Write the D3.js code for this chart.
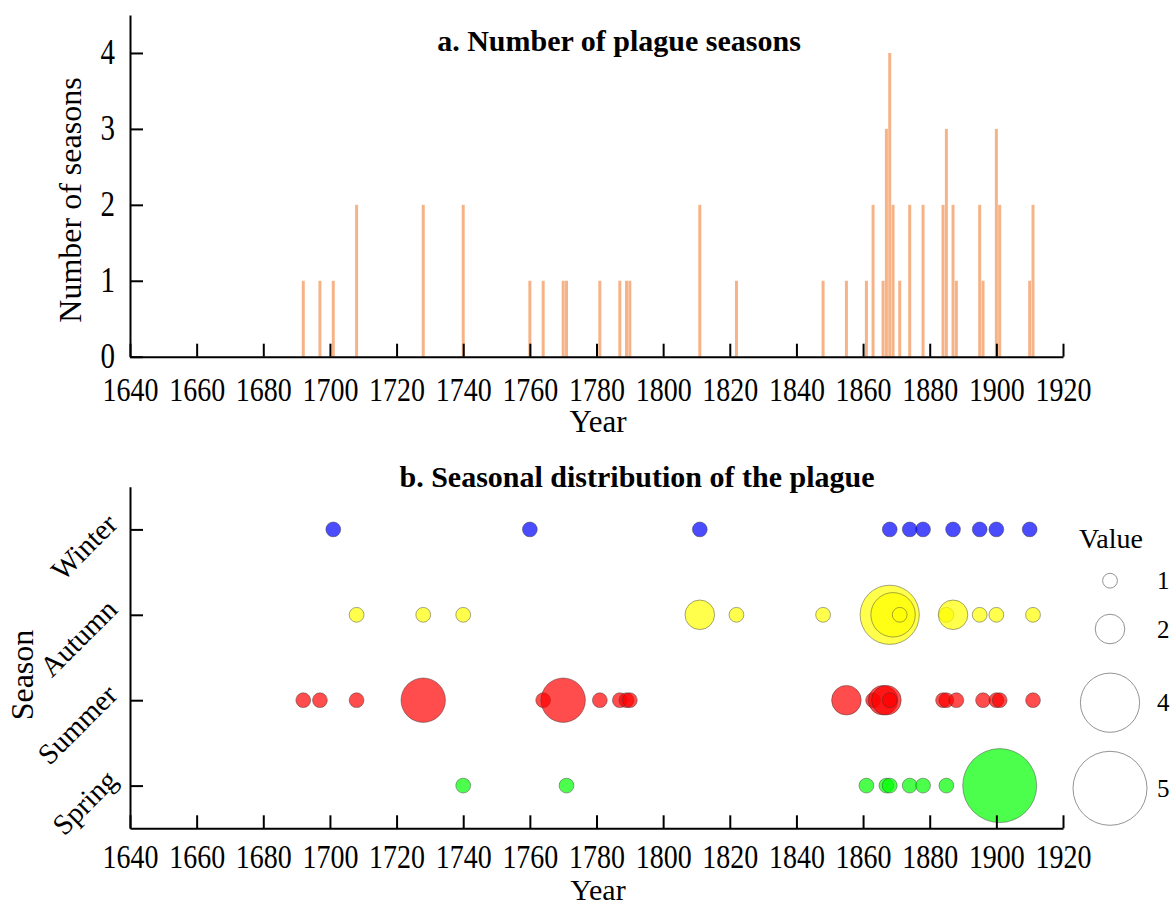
<!DOCTYPE html>
<html>
<head>
  <meta charset="utf-8">
  <title>plague seasons</title>
  <script src="https://d3js.org/d3.v7.min.js"></script>
  <style>
    body {
      margin: 0;
      background: #fff;
    }
    text {
      font-family: "Liberation Serif", "Times New Roman", serif;
      fill: #000;
    }
    .axis path, .axis line {
      stroke: #000;
      stroke-width: 2px;
    }
    .title {
      font-weight: bold;
      font-size: 30px;
    }
  </style>
</head>
<body>
<script>
  // number of plague seasons per year (panel a)
  var barYears = [1692, 1697, 1701, 1708, 1728, 1740, 1760, 1764, 1770, 1771, 1781, 1787, 1789, 1790,
    1811, 1822, 1848, 1855, 1861, 1863, 1866, 1867, 1868, 1869, 1871, 1874, 1878, 1884, 1885,
    1887, 1888, 1895, 1896, 1900, 1901, 1910, 1911];
  var barCounts = [1, 1, 1, 2, 2, 2, 1, 1, 1, 1, 1, 1, 1, 1,
    2, 1, 1, 1, 1, 2, 1, 3, 4, 2, 1, 2, 2, 2, 3,
    2, 1, 2, 1, 3, 2, 1, 2];

  // seasonal bubbles (panel b)
  var seasons = ["Spring", "Summer", "Autumn", "Winter"];
  var seasonColors = ["#00ff00", "#ff0000", "#ffff00", "#0000ff"];

  var springYears = [1740, 1771, 1861, 1867, 1868, 1874, 1878, 1885, 1901];
  var springValues = [1, 1, 1, 1, 1, 1, 1, 1, 5];
  var summerYears = [1692, 1697, 1708, 1728, 1764, 1770, 1781, 1787, 1789, 1790, 1855, 1863, 1866,
    1867, 1868, 1884, 1885, 1888, 1896, 1900, 1901, 1911];
  var summerValues = [1, 1, 1, 3, 1, 3, 1, 1, 1, 1, 2, 1, 2,
    2, 1, 1, 1, 1, 1, 1, 1, 1];
  var autumnYears = [1708, 1728, 1740, 1811, 1822, 1848, 1868, 1869, 1871, 1885, 1887, 1895, 1900, 1911];
  var autumnValues = [1, 1, 1, 2, 1, 1, 4, 3, 1, 1, 2, 1, 1, 1];
  var winterYears = [1701, 1760, 1811, 1868, 1874, 1878, 1887, 1895, 1900, 1910];
  var winterValues = [1, 1, 1, 1, 1, 1, 1, 1, 1, 1];

  var legendValues = [1, 2, 4, 5];
  var yearTicks = d3.range(1640, 1921, 20);
  var countTicks = [0, 1, 2, 3, 4];

  var width = 1174;
  var height = 907;

  var svg = d3.select("body").append("svg")
    .attr("width", width)
    .attr("height", height);

  var xScale = d3.scaleLinear().domain([1640, 1920]).range([130, 1063]);
  var yTop = d3.scaleLinear().domain([0, 4.5]).range([356.7, 15]);
  var yBottom = d3.scaleLinear().domain([0.5, 4.5]).range([828.3, 486.7]);
  var rScale = d3.scaleLinear().domain([0, 5]).range([0, 37]);

  // ---------- panel a ----------
  var bars = barYears.map(function(y, i) { return {year: y, count: barCounts[i]}; });

  svg.append("g").selectAll("rect")
    .data(bars)
    .enter()
    .append("rect")
    .attr("x", function(d) { return xScale(d.year - 0.45); })
    .attr("width", function(d) { return xScale(d.year + 0.45) - xScale(d.year - 0.45); })
    .attr("y", function(d) { return yTop(d.count); })
    .attr("height", function(d) { return yTop(0) - yTop(d.count); })
    .attr("fill", "#f6b387");

  var xAxisTop = svg.append("g")
    .attr("class", "axis")
    .attr("transform", "translate(0," + yTop(0) + ")")
    .call(d3.axisBottom(xScale).tickValues(yearTicks).tickFormat(d3.format("d")).tickSize(-13).tickSizeOuter(0));
  xAxisTop.selectAll("text")
    .attr("y", 0).attr("dy", 0)
    .attr("transform", "translate(0,44) scale(1,1.2)")
    .style("font-size", "28px");

  var yAxisTop = svg.append("g")
    .attr("class", "axis")
    .attr("transform", "translate(" + xScale(1640) + ",0)")
    .call(d3.axisLeft(yTop).tickValues(countTicks).tickFormat(d3.format("d")).tickSize(-13).tickSizeOuter(0));
  yAxisTop.selectAll("text")
    .attr("x", 0).attr("y", 0).attr("dy", 0)
    .attr("transform", "translate(-15,11) scale(1,1.2)")
    .style("font-size", "29px");

  svg.append("text")
    .attr("class", "title")
    .attr("x", 619)
    .attr("y", 51)
    .attr("text-anchor", "middle")
    .text("a. Number of plague seasons");

  svg.append("text")
    .attr("x", 598)
    .attr("y", 432)
    .attr("text-anchor", "middle")
    .style("font-size", "31px")
    .text("Year");

  svg.append("text")
    .attr("transform", "translate(81,200) rotate(-90)")
    .attr("text-anchor", "middle")
    .style("font-size", "32px")
    .text("Number of seasons");

  // ---------- panel b ----------
  var seasonYears = [springYears, summerYears, autumnYears, winterYears];
  var seasonValues = [springValues, summerValues, autumnValues, winterValues];
  var bubbles = [];
  seasonYears.forEach(function(list, s) {
    list.forEach(function(y, i) {
      bubbles.push({season: s + 1, year: y, value: seasonValues[s][i], color: seasonColors[s]});
    });
  });

  svg.append("g").selectAll("circle")
    .data(bubbles)
    .enter()
    .append("circle")
    .attr("cx", function(d) { return xScale(d.year); })
    .attr("cy", function(d) { return yBottom(d.season); })
    .attr("r", function(d) { return rScale(d.value); })
    .attr("fill", function(d) { return d.color; })
    .attr("fill-opacity", 0.7)
    .attr("stroke", "#333")
    .attr("stroke-opacity", 0.55)
    .attr("stroke-width", 0.8);

  var xAxisBottom = svg.append("g")
    .attr("class", "axis")
    .attr("transform", "translate(0," + yBottom(0.5) + ")")
    .call(d3.axisBottom(xScale).tickValues(yearTicks).tickFormat(d3.format("d")).tickSize(-13).tickSizeOuter(0));
  xAxisBottom.selectAll("text")
    .attr("y", 0).attr("dy", 0)
    .attr("transform", "translate(0,40) scale(1,1.2)")
    .style("font-size", "28px");

  var yAxisBottom = svg.append("g")
    .attr("class", "axis")
    .attr("transform", "translate(" + xScale(1640) + ",0)")
    .call(d3.axisLeft(yBottom).tickValues([1, 2, 3, 4])
      .tickFormat(function(d) { return seasons[d - 1]; })
      .tickSize(-13).tickSizeOuter(0));
  yAxisBottom.selectAll("text")
    .attr("x", 0).attr("y", 0).attr("dy", 0)
    .attr("text-anchor", "end")
    .attr("transform", "translate(-11,-4) rotate(-45)")
    .style("font-size", "29px");

  svg.append("text")
    .attr("class", "title")
    .attr("x", 637)
    .attr("y", 487)
    .attr("text-anchor", "middle")
    .text("b. Seasonal distribution of the plague");

  svg.append("text")
    .attr("x", 598)
    .attr("y", 900)
    .attr("text-anchor", "middle")
    .style("font-size", "30px")
    .text("Year");

  svg.append("text")
    .attr("transform", "translate(33,675) rotate(-90)")
    .attr("text-anchor", "middle")
    .style("font-size", "32px")
    .text("Season");

  // legend
  var legendY = [580.7, 629, 702.7, 788.3];
  svg.append("text")
    .attr("x", 1111)
    .attr("y", 548)
    .attr("text-anchor", "middle")
    .style("font-size", "28px")
    .text("Value");

  var legend = svg.append("g").selectAll("g")
    .data(legendValues)
    .enter()
    .append("g")
    .attr("transform", function(d, i) { return "translate(1110," + legendY[i] + ")"; });

  legend.append("circle")
    .attr("r", function(d) { return rScale(d); })
    .attr("fill", "#fff")
    .attr("stroke", "#777")
    .attr("stroke-width", 0.8);

  legend.append("text")
    .attr("x", 47)
    .attr("dy", "0.35em")
    .style("font-size", "25px")
    .text(function(d) { return d; });
</script>
</body>
</html>
